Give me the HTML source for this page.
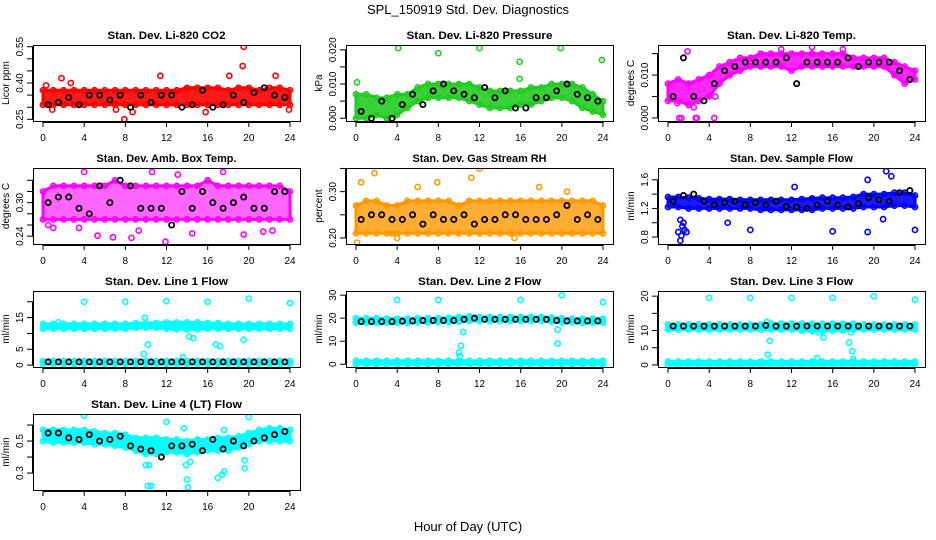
<!DOCTYPE html>
<html><head><meta charset="utf-8"><style>
html,body{margin:0;padding:0;background:#fff;}
svg{display:block;font-family:"Liberation Sans",sans-serif;}
</style></head><body>
<svg id="chart" width="936" height="540" viewBox="0 0 936 540">
<text x="468" y="14" font-size="13" text-anchor="middle">SPL_150919  Std. Dev. Diagnostics</text>
<text x="468" y="531" font-size="13" text-anchor="middle">Hour of Day (UTC)</text>
</svg>
<script>
// shared data
const bandHours = [0,1,2,3,4,5,6,7,8,9,10,11,12,13,14,15,16,17,18,19,20,21,22,23,24];
const blackHours = [0.5,1.5,2.5,3.5,4.5,5.5,6.5,7.5,8.5,9.5,10.5,11.5,12.5,13.5,14.5,15.5,16.5,17.5,18.5,19.5,20.5,21.5,22.5,23.5];
const xTicks = [0,4,8,12,16,20,24];

// Panel 1: CO2
const co2Lo = [0.31,0.31,0.31,0.31,0.31,0.31,0.31,0.31,0.31,0.31,0.31,0.31,0.31,0.31,0.31,0.31,0.31,0.31,0.31,0.31,0.31,0.31,0.31,0.31,0.31];
const co2Hi = [0.37,0.37,0.37,0.37,0.37,0.37,0.37,0.37,0.37,0.37,0.37,0.37,0.37,0.37,0.38,0.38,0.38,0.38,0.37,0.38,0.38,0.37,0.38,0.38,0.37];
const co2Black = [0.31,0.32,0.34,0.31,0.35,0.35,0.33,0.35,0.30,0.35,0.32,0.35,0.35,0.30,0.31,0.37,0.30,0.31,0.35,0.32,0.36,0.38,0.35,0.34];
const co2OutX = [1.8,2.7,7.9,19.5,19.4,18.1,11.4,0.3,22.6,0.9,23.9,7.1,15.8,8.7];
const co2OutY = [0.42,0.40,0.25,0.55,0.47,0.43,0.43,0.39,0.43,0.29,0.29,0.29,0.28,0.28];
// Panel 2: Pressure
const prLo = [0,0,0.001,0,0.001,0.003,0.005,0.006,0.006,0.006,0.006,0.005,0.004,0.003,0.003,0.003,0.004,0.004,0.005,0.006,0.006,0.005,0.003,0.002,0.001];
const prHi = [0.007,0.007,0.006,0.006,0.007,0.007,0.009,0.010,0.010,0.010,0.010,0.010,0.009,0.008,0.008,0.008,0.008,0.009,0.009,0.010,0.010,0.010,0.009,0.007,0.005];
const prBlack = [0.002,0,0.005,0,0.004,0.007,0.004,0.008,0.010,0.008,0.007,0.006,0.009,0.006,0.008,0.003,0.003,0.006,0.006,0.008,0.010,0.007,0.006,0.005];
const prOutX = [4.1,8.0,12,15.9,15.9,19.9,23.9,0.1];
const prOutY = [0.0205,0.019,0.0205,0.0165,0.0115,0.0205,0.017,0.0105];
// Panel 3: Temp
const tLo = [0.004,0.004,0.003,0.004,0.005,0.008,0.010,0.011,0.012,0.012,0.012,0.012,0.011,0.012,0.012,0.012,0.012,0.012,0.012,0.012,0.012,0.012,0.010,0.008,0.009];
const tHi = [0.008,0.009,0.008,0.009,0.010,0.012,0.013,0.014,0.014,0.015,0.015,0.015,0.015,0.015,0.015,0.015,0.015,0.015,0.014,0.014,0.014,0.014,0.013,0.012,0.011];
const tBlack = [0.005,0.014,0.005,0.004,0.008,0.011,0.012,0.013,0.013,0.013,0.013,0.014,0.008,0.013,0.013,0.013,0.013,0.014,0.012,0.013,0.013,0.013,0.011,0.009];
const tOutX = [1.1,1.3,2.7,2.8,4.5,1.9,11,14,17,4.6,0.9,2.5];
const tOutY = [0,0,0,0,0,0.0155,0.016,0.0165,0.016,0.005,0.0035,0.0025];
// Panel 4: Amb box temp
const aLo = [0.27,0.27,0.27,0.27,0.27,0.27,0.27,0.27,0.27,0.27,0.27,0.27,0.27,0.27,0.27,0.27,0.27,0.27,0.27,0.27,0.27,0.27,0.27,0.27,0.27];
const aHi = [0.32,0.33,0.33,0.33,0.33,0.33,0.33,0.34,0.33,0.33,0.33,0.33,0.33,0.33,0.33,0.33,0.34,0.33,0.33,0.33,0.33,0.33,0.33,0.33,0.32];
const aBlack = [0.30,0.31,0.31,0.29,0.28,0.33,0.30,0.34,0.33,0.29,0.29,0.29,0.26,0.32,0.29,0.32,0.30,0.29,0.30,0.31,0.29,0.29,0.32,0.32];
const aOutX = [4.0,11.9,5.3,6.8,17.5,19.5,10.6,13.1,8.6,0.5,1.0,3.5,9.3,14.5,21.4,22.3];
const aOutY = [0.355,0.23,0.241,0.238,0.355,0.243,0.355,0.35,0.237,0.26,0.255,0.255,0.25,0.245,0.248,0.25];
// Panel 5: RH
const rLo = [0.21,0.21,0.21,0.21,0.21,0.21,0.21,0.21,0.21,0.21,0.21,0.21,0.21,0.21,0.21,0.21,0.21,0.21,0.21,0.21,0.21,0.21,0.21,0.21,0.21];
const rHi = [0.27,0.28,0.28,0.27,0.27,0.28,0.28,0.28,0.28,0.28,0.27,0.28,0.28,0.28,0.28,0.28,0.28,0.28,0.28,0.28,0.28,0.28,0.28,0.28,0.27];
const rBlack = [0.24,0.25,0.25,0.24,0.24,0.25,0.23,0.25,0.24,0.24,0.25,0.23,0.24,0.24,0.25,0.25,0.24,0.24,0.24,0.25,0.27,0.24,0.25,0.24];
const rOutX = [0.1,4,0.5,1.8,12,3.5,7.9,15.4,11.2,6.0,17.8,20.5];
const rOutY = [0.19,0.20,0.32,0.34,0.35,0.21,0.32,0.20,0.33,0.31,0.31,0.30];
// Panel 6: Sample flow
const sLo = [1.22,1.22,1.20,1.20,1.20,1.20,1.20,1.20,1.20,1.18,1.18,1.18,1.18,1.18,1.18,1.20,1.20,1.20,1.20,1.22,1.22,1.22,1.24,1.24,1.22];
const sHi = [1.36,1.36,1.35,1.34,1.33,1.33,1.33,1.32,1.32,1.32,1.32,1.32,1.32,1.33,1.34,1.35,1.35,1.35,1.36,1.40,1.40,1.40,1.42,1.42,1.38];
const sBlack = [1.30,1.38,1.40,1.30,1.25,1.28,1.30,1.25,1.28,1.25,1.30,1.23,1.22,1.20,1.25,1.30,1.25,1.22,1.27,1.35,1.32,1.30,1.42,1.45];
const sOutX = [1.2,1.3,1.0,1.6,1.4,1.5,1.2,1.8,5.8,8.0,16,19.4,24,20.9,21.7,21.2,19.4,12.3];
const sOutY = [0.75,0.82,0.87,0.9,0.95,1.0,1.04,0.87,1.0,0.9,0.88,0.87,0.9,1.05,1.65,1.72,1.6,1.5];
// Panel 7: Line 1
const l1Lo = [11.5,11.5,11.5,11.5,11.5,11.5,11.5,11.5,11.5,11.8,11.8,11.8,11.5,11.3,11.3,11.3,11.5,11.5,11.5,11.5,11.5,11.5,11.5,11.5,11.5];
const l1Hi = [13,13,13,13,13,13,13,13,13,13.2,13.3,13.3,13.5,13.5,13.5,13.5,13.3,13.3,13,13,13,13,13,13,13];
const l1Lo2 = [0.4,0.4,0.4,0.4,0.4,0.4,0.4,0.4,0.4,0.4,0.4,0.4,0.4,0.4,0.4,0.4,0.4,0.4,0.4,0.4,0.4,0.4,0.4,0.4,0.4];
const l1Hi2 = [1.3,1.3,1.3,1.3,1.3,1.3,1.3,1.3,1.3,1.3,1.3,1.3,1.3,1.3,1.3,1.3,1.3,1.3,1.3,1.3,1.3,1.3,1.3,1.3,1.3];
const l1Black = [1,1,1,1,1,1,1,1,1,1,1,1,1,1,1,1,1,1,1,1,1,1,1,1];
const l1OutX = [4,8,12,16,20,24,9.9,10.2,9.8,14.2,14.6,16.8,17.2,19.5,13.6,1.5];
const l1OutY = [20,20,20.2,20,21,19.6,15,6.5,3.5,9,8.5,6.5,6,8,2.5,13.5];
// Panel 8: Line 2
const l2Lo = [18,18,18,18,18,18,18.2,18.2,18.3,18.3,18.5,18.8,18.8,18.8,18.8,18.8,18.8,18.8,18.8,18.5,18.2,18.2,18,18,18];
const l2Hi = [20,20,20,19.8,19.8,19.8,20,20,20,20.2,20.5,20.8,20.5,20.5,20.5,20.5,20.5,20.5,20.5,20.3,20,19.8,19.8,19.8,19.8];
const l2Lo2 = [0,0,0,0,0,0,0,0,0,0,0,0,0,0,0,0,0,0,0,0,0,0,0,0,0];
const l2Hi2 = [1.5,1.5,1.5,1.5,1.5,1.5,1.5,1.5,1.5,1.5,1.5,1.5,1.5,1.5,1.5,1.5,1.5,1.5,1.5,1.5,1.5,1.5,1.5,1.5,1.5];
const l2Black = [18.5,18.5,18.5,18.5,18.7,18.8,19,19,19,19,19.5,20,19.5,19.5,19.5,19.5,19.5,19.5,19.5,19,18.8,18.8,18.8,18.8];
const l2OutX = [4,8,16,20,24,10,10.1,10.2,10.4,19.6,19.6];
const l2OutY = [28,28,28,30,27,5,3.5,8,14,9,15];
// Panel 9: Line 3
const l3Lo = [10.3,10.3,10.3,10.3,10.3,10.3,10.3,10.3,10.3,10.3,10.3,10.3,10.3,10.0,9.8,9.8,10.0,10.0,10.3,10.3,10.3,10.3,10.3,10.3,10.3];
const l3Hi = [11.8,11.8,11.8,11.8,11.8,11.8,11.8,11.8,11.8,11.8,12,12,12,12,12,12,12,12,12,11.8,11.8,11.8,11.8,11.8,11.8];
const l3Lo2 = [0,0,0,0,0,0,0,0,0,0,0,0,0,0,0,0,0,0,0,0,0,0,0,0,0];
const l3Hi2 = [1,1,1,1,1,1,1,1,1,1,1,1,1,1,1,1,1,1,1,1,1,1,1,1,1];
const l3Black = [11.3,11.3,11.3,11.3,11.3,11.3,11.3,11.3,11.3,11.5,11.3,11.3,11.3,11.3,11.3,11.3,11.3,11.3,11.3,11.3,11.3,11.3,11.3,11.3];
const l3OutX = [4,8,12,16,20,24,9.7,9.9,9.6,14.5,17.6,17.9,18,14.6,15.1,17.8];
const l3OutY = [19.5,19.5,19.5,19.5,20,19,3,7,12.5,2,6.5,4,1.8,9.5,8,9.5];
// Panel 10: Line 4
const l4Lo = [0.50,0.49,0.49,0.49,0.49,0.48,0.48,0.47,0.46,0.44,0.42,0.42,0.43,0.43,0.42,0.43,0.44,0.44,0.44,0.46,0.48,0.50,0.50,0.50,0.50];
const l4Hi = [0.57,0.57,0.57,0.57,0.57,0.56,0.55,0.55,0.54,0.52,0.52,0.52,0.51,0.51,0.50,0.51,0.51,0.52,0.52,0.53,0.55,0.57,0.58,0.58,0.57];
const l4Black = [0.55,0.55,0.52,0.51,0.54,0.5,0.51,0.53,0.47,0.45,0.44,0.40,0.47,0.47,0.48,0.44,0.51,0.45,0.5,0.47,0.5,0.52,0.54,0.56];
const l4OutX = [4,12,20,10,10.3,10.2,10.5,14,14.1,13.9,14.3,17,17.4,17.6,19.6,19.6,9.8,17.6,13.7];
const l4OutY = [0.66,0.62,0.65,0.35,0.35,0.22,0.22,0.26,0.21,0.35,0.37,0.27,0.29,0.31,0.38,0.33,0.43,0.57,0.58];

const NS = "http://www.w3.org/2000/svg";
const svg = document.getElementById('chart');
function mk(tag, attrs, parent){ const e=document.createElementNS(NS,tag); for(const k in attrs) e.setAttribute(k,attrs[k]); (parent||svg).appendChild(e); return e; }

const colLeft = [33,346,658];
const rowTop = [45,168,291,414];
const BW = 267, BH = 76;

const panels = [
 {name:'co2', title:'Stan. Dev. Li-820 CO2', c:0,r:0, ymin:0.243, ymax:0.557, yt:[0.25,0.30,0.35,0.40,0.45,0.50,0.55], yl:[0.25,0.40,0.55], fmt:2, ylab:'Licor ppm', col:'#ff0000', op:0.9, bands:[[co2Lo,co2Hi]], blk:co2Black, ox:co2OutX, oy:co2OutY},
 {name:'pressure', title:'Stan. Dev. Li-820 Pressure', c:1,r:0, ymin:-0.0008, ymax:0.0214, yt:[0,0.005,0.010,0.015,0.020], yl:[0,0.010,0.020], fmt:3, ylab:'kPa', col:'#22cc22', op:0.9, bands:[[prLo,prHi]], blk:prBlack, ox:prOutX, oy:prOutY},
 {name:'temp', title:'Stan. Dev. Li-820 Temp.', c:2,r:0, ymin:-0.0007, ymax:0.0170, yt:[0,0.005,0.010,0.015], yl:[0,0.010], fmt:3, ylab:'degrees C', col:'#ff00ff', op:0.85, bands:[[tLo,tHi]], blk:tBlack, ox:tOutX, oy:tOutY},
 {name:'amb-box-temp', title:'Stan. Dev. Amb. Box Temp.', c:0,r:1, ymin:0.226, ymax:0.362, yt:[0.24,0.26,0.28,0.30,0.32,0.34], yl:[0.24,0.30], fmt:2, ylab:'degrees C', col:'#ff00ff', op:0.6, bands:[[aLo,aHi]], blk:aBlack, ox:aOutX, oy:aOutY},
 {name:'gas-rh', title:'Stan. Dev. Gas Stream RH', c:1,r:1, ymin:0.187, ymax:0.351, yt:[0.20,0.25,0.30,0.35], yl:[0.20,0.30], fmt:2, ylab:'percent', col:'#ff9900', op:0.8, bands:[[rLo,rHi]], blk:rBlack, ox:rOutX, oy:rOutY},
 {name:'sample-flow', title:'Stan. Dev. Sample Flow', c:2,r:1, ymin:0.703, ymax:1.765, yt:[0.8,1.0,1.2,1.4,1.6], yl:[0.8,1.2,1.6], fmt:1, ylab:'ml/min', col:'#0000ff', op:0.9, bands:[[sLo,sHi]], blk:sBlack, ox:sOutX, oy:sOutY},
 {name:'line1-flow', title:'Stan. Dev. Line 1 Flow', c:0,r:2, ymin:-0.6, ymax:23.4, yt:[0,5,10,15,20], yl:[0,5,15], fmt:0, ylab:'ml/min', col:'#00ffff', op:1, bands:[[l1Lo,l1Hi],[l1Lo2,l1Hi2]], blk:l1Black, ox:l1OutX, oy:l1OutY},
 {name:'line2-flow', title:'Stan. Dev. Line 2 Flow', c:1,r:2, ymin:-1.2, ymax:31.8, yt:[0,10,20,30], yl:[0,10,20,30], fmt:0, ylab:'ml/min', col:'#00ffff', op:1, bands:[[l2Lo,l2Hi],[l2Lo2,l2Hi2]], blk:l2Black, ox:l2OutX, oy:l2OutY},
 {name:'line3-flow', title:'Stan. Dev. Line 3 Flow', c:2,r:2, ymin:-0.6, ymax:21.5, yt:[0,5,10,15,20], yl:[0,5,10,20], fmt:0, ylab:'ml/min', col:'#00ffff', op:1, bands:[[l3Lo,l3Hi],[l3Lo2,l3Hi2]], blk:l3Black, ox:l3OutX, oy:l3OutY},
 {name:'line4-flow', title:'Stan. Dev. Line 4 (LT) Flow', c:0,r:3, ymin:0.194, ymax:0.669, yt:[0.3,0.4,0.5,0.6], yl:[0.3,0.5], fmt:1, ylab:'ml/min', col:'#00ffff', op:1, bands:[[l4Lo,l4Hi]], blk:l4Black, ox:l4OutX, oy:l4OutY}
];

panels.forEach(p=>{
  const L=colLeft[p.c], T=rowTop[p.r], B=T+BH, R=L+BW;
  const xs = h => L+10 + h/24*(BW-20);
  const ys = v => B - (v-p.ymin)/(p.ymax-p.ymin)*BH;
  const g = mk('g',{});
  
  
  const t = mk('text',{x:(L+R)/2, y:T-6, 'font-size':11, 'font-weight':'bold', 'text-anchor':'middle', 'textLength':Math.round(p.title.length*5.6), 'lengthAdjust':'spacingAndGlyphs'}, g);
  t.textContent = p.title;
  
  
  const cid='clip-'+p.name;
  const cp = mk('clipPath',{id:cid}, g); mk('rect',{x:L,y:T,width:BW,height:BH},cp);
  const sg = mk('g',{'clip-path':'url(#'+cid+')'}, g);
  
  
  p.bands.forEach(([lo,hi])=>{
    let d='';
    bandHours.forEach((h,i)=>{ d+=(i?'L':'M')+xs(h).toFixed(1)+','+ys(hi[i]).toFixed(1); });
    for(let i=bandHours.length-1;i>=0;i--) d+='L'+xs(bandHours[i]).toFixed(1)+','+ys(lo[i]).toFixed(1);
    const band = mk('path',{d:d+'Z', fill:p.col, 'fill-opacity':p.op, stroke:p.col, 'stroke-width':3, 'stroke-linejoin':'round'}, sg);
    
    
    bandHours.forEach((h,i)=>{
      [lo[i],hi[i]].forEach(v=>{
        const c = mk('circle',{cx:xs(h),cy:ys(v),r:2.6,fill:'none',stroke:p.col,'stroke-width':1.6}, sg);
        
        
      });
    });
  });
  p.ox.forEach((h,i)=>{
    const c = mk('circle',{cx:xs(h),cy:ys(p.oy[i]),r:2.6,fill:'none',stroke:p.col,'stroke-width':1.6}, sg);
    
    
  });
  p.blk.forEach((v,i)=>{
    const c = mk('circle',{cx:xs(blackHours[i]),cy:ys(v),r:2.6,fill:'none',stroke:'#000','stroke-width':1.8}, sg);
    
    
  });
  const box = mk('rect',{x:L+0.5,y:T+0.5,width:BW,height:BH,fill:'none',stroke:'#000','stroke-width':1}, g);
  
  
  const xa = mk('g',{}, g);
  
  
  mk('line',{x1:xs(0),x2:xs(24),y1:B+1.5,y2:B+1.5,stroke:'#000'},xa);
  xTicks.forEach(h=>{
    mk('line',{x1:xs(h),x2:xs(h),y1:B+1,y2:B+6,stroke:'#000'},xa);
    const tl = mk('text',{x:xs(h),y:B+20,'font-size':10,'text-anchor':'middle'},xa);
    tl.textContent = h;
    
    
  });
  const ya = mk('g',{}, g);
  
  
  mk('line',{x1:L-0.5,x2:L-0.5,y1:ys(p.yt[0]),y2:ys(p.yt[p.yt.length-1]),stroke:'#000'},ya);
  p.yt.forEach(v=>{
    mk('line',{x1:L-6,x2:L,y1:ys(v),y2:ys(v),stroke:'#000'},ya);
  });
  p.yl.forEach(v=>{
    const yy=ys(v), xx=L-10;
    const tl = mk('text',{x:xx,y:yy,'font-size':10,'text-anchor':'middle',transform:'rotate(-90 '+xx+' '+yy+')'},ya);
    tl.textContent = v.toFixed(p.fmt);
    
    
  });
  const yx=L-24, yy=(T+B)/2;
  const yt = mk('text',{x:yx,y:yy,'font-size':10,'text-anchor':'middle',transform:'rotate(-90 '+yx+' '+yy+')'},ya);
  yt.textContent = p.ylab;
  
  
});
</script>
</body></html>
